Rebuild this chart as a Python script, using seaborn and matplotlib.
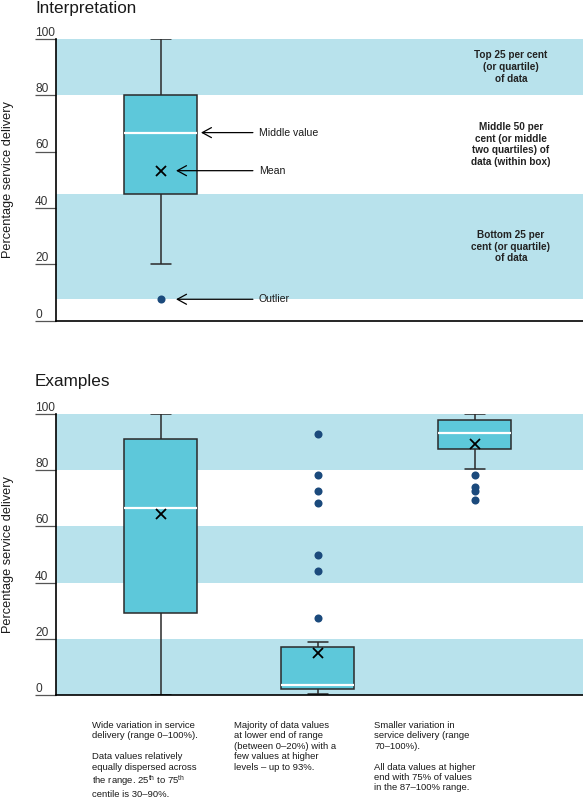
import numpy as np
import pandas as pd
import matplotlib
matplotlib.use("Agg")
import matplotlib.pyplot as plt
import seaborn as sns

# ---------------- data ----------------
# Interpretation panel (schematic box)
interp_group = ["Interpretation"]
interp_values = [7.6, 20, 45, 55, 66.7, 72, 80, 90, 100]
interp_mean = [53.2]
interp_bands = [(80, 100), (7.7, 45)]
interp_band_text = [
    (90, "Top 25 per cent\n(or quartile)\nof data"),
    (62.5, "Middle 50 per\ncent (or middle\ntwo quartiles) of\ndata (within box)"),
    (26.3, "Bottom 25 per\ncent (or quartile)\nof data"),
]

# Examples panel
ex_groups = ["Wide", "Low", "High"]
ex_wide = [0, 15, 29.1, 50, 66.4, 80, 91.1, 96, 100]
ex_low = [0.3, 0.8, 1.0, 1.2, 1.5, 1.7, 1.9, 2.0, 2.1,
          2.3, 2.5, 2.7, 2.9, 3.1, 3.3, 3.5, 3.6,
          4.5, 6.0, 8.0, 10.0, 12.0, 14.0, 16.0, 17.3, 19.0,
          27.6, 44.3, 49.9, 68.4, 72.5, 78.3, 92.7]
ex_high = [69.4, 72.5, 74.1, 78.3, 80.5, 87.4, 88.5, 89.8, 91.0, 92.2,
           93.3, 94.2, 95.1, 96.0, 97.0, 97.9, 98.4, 98.8, 99.2, 99.6, 100]
ex_means = [64.3, 14.9, 89.1]
ex_bands = [(0, 20), (40, 60), (80, 100)]

yticks = [0, 20, 40, 60, 80, 100]
ylabel = "Percentage service delivery"

captions = [
    "Wide variation in service\ndelivery (range 0\u2013100%).\n\nData values relatively\nequally dispersed across\nthe range. 25$^{\\rm th}$ to 75$^{\\rm th}$\ncentile is 30\u201390%.",
    "Majority of data values\nat lower end of range\n(between 0\u201320%) with a\nfew values at higher\nlevels \u2013 up to 93%.",
    "Smaller variation in\nservice delivery (range\n70\u2013100%).\n\nAll data values at higher\nend with 75% of values\nin the 87\u2013100% range.",
]

# ---------------- style ----------------
sns.set_theme(style="white")
plt.rcParams["font.family"] = ["Liberation Sans", "DejaVu Sans"]
plt.rcParams["mathtext.fontset"] = "custom"
plt.rcParams["mathtext.rm"] = "Liberation Sans"
plt.rcParams["mathtext.it"] = "Liberation Sans:italic"
plt.rcParams["mathtext.bf"] = "Liberation Sans:bold"

BAND = "#B8E2EC"
BOX = "#5DC8DA"
EDGE = "#2a2a2a"
FLIER = "#1B4A7C"
TXT = "#1a1a1a"

fig = plt.figure(figsize=(5.83, 8.0), dpi=100)
ax1 = fig.add_axes([56 / 583, 1 - 320.7 / 800, 1 - 56 / 583, (320.7 - 38.7) / 800])
ax2 = fig.add_axes([56 / 583, 1 - 695.3 / 800, 1 - 56 / 583, (695.3 - 413.7) / 800])

box_kw = dict(
    width=0.465, saturation=1, color=BOX, linecolor=EDGE, linewidth=1.1,
    medianprops=dict(color="white", linewidth=1.6),
    flierprops=dict(marker="o", markerfacecolor=FLIER, markeredgecolor=FLIER,
                    markersize=5.8, markeredgewidth=0),
    capwidths=0.13,
)

df1 = pd.DataFrame({"group": interp_group * len(interp_values), "value": interp_values})
sns.boxplot(data=df1, x="group", y="value", whis=0.9, ax=ax1, **box_kw)
sns.pointplot(x=interp_group, y=interp_mean, color="black", markers="x",
              linestyles="none", errorbar=None, ax=ax1, markersize=7,
              markeredgewidth=1.3, zorder=10)

df2 = pd.DataFrame({
    "group": [ex_groups[0]] * len(ex_wide) + [ex_groups[1]] * len(ex_low) + [ex_groups[2]] * len(ex_high),
    "value": ex_wide + ex_low + ex_high,
})
sns.boxplot(data=df2, x="group", y="value", order=ex_groups, whis=0.66, ax=ax2, **box_kw)
sns.pointplot(x=ex_groups, y=ex_means, order=ex_groups, color="black", markers="x",
              linestyles="none", errorbar=None, ax=ax2, markersize=7,
              markeredgewidth=1.3, zorder=10)

for ax, bands in ((ax1, interp_bands), (ax2, ex_bands)):
    for lo, hi in bands:
        ax.axhspan(lo, hi, color=BAND, zorder=0, lw=0)
    ax.set_xlim(-0.669, 2.69)
    ax.set_ylim(0, 100)
    ax.set_yticks(yticks)
    ax.set_yticklabels([str(t) for t in yticks])
    ax.tick_params(axis="y", length=15, width=0.9, color="#555555", pad=0,
                   labelsize=8.6, labelcolor="#333333", left=True)
    for lbl in ax.get_yticklabels():
        lbl.set_horizontalalignment("left")
        lbl.set_verticalalignment("bottom")
    ax.tick_params(axis="x", bottom=False, labelbottom=False)
    ax.set_xlabel("")
    ax.set_ylabel(ylabel, fontsize=9.2, color=TXT)
    ax.yaxis.set_label_coords(-0.079, 0.5)
    for s in ("top", "right"):
        ax.spines[s].set_visible(False)
    for s in ("left", "bottom"):
        ax.spines[s].set_color("black")
        ax.spines[s].set_linewidth(1.2)
    ax.set_facecolor("white")

# Annotations on interpretation panel
arrow_kw = dict(arrowstyle="->,head_length=0.55,head_width=0.3", lw=0.9, color="black",
                shrinkA=0, shrinkB=0)
interp_median = 66.7
interp_outlier = interp_values[0]
for y, label, x0 in ((interp_median, "Middle value", 0.255),
                     (interp_mean[0], "Mean", 0.096),
                     (interp_outlier, "Outlier", 0.096)):
    ax1.annotate("", xy=(x0, y), xytext=(0.586, y), arrowprops=arrow_kw)
    ax1.text(0.624, y, label, va="center", ha="left", fontsize=7.6, color=TXT)

for y, t in interp_band_text:
    ax1.text(0.863, y, t, transform=ax1.get_yaxis_transform(), ha="center", va="center",
             fontsize=7.2, fontweight="bold", color="#222222", linespacing=1.2)

fig.text(35 / 583, 1 - 12.5 / 800, "Interpretation", fontsize=12.3, color=TXT, va="baseline")
fig.text(35 / 583, 1 - 386 / 800, "Examples", fontsize=12.3, color=TXT, va="baseline")

for x, c in zip((92, 234, 374), captions):
    fig.text(x / 583, 1 - 721 / 800, c, fontsize=6.8, color=TXT, va="top", ha="left",
             linespacing=1.2)

fig.savefig("out.png", dpi=100)
